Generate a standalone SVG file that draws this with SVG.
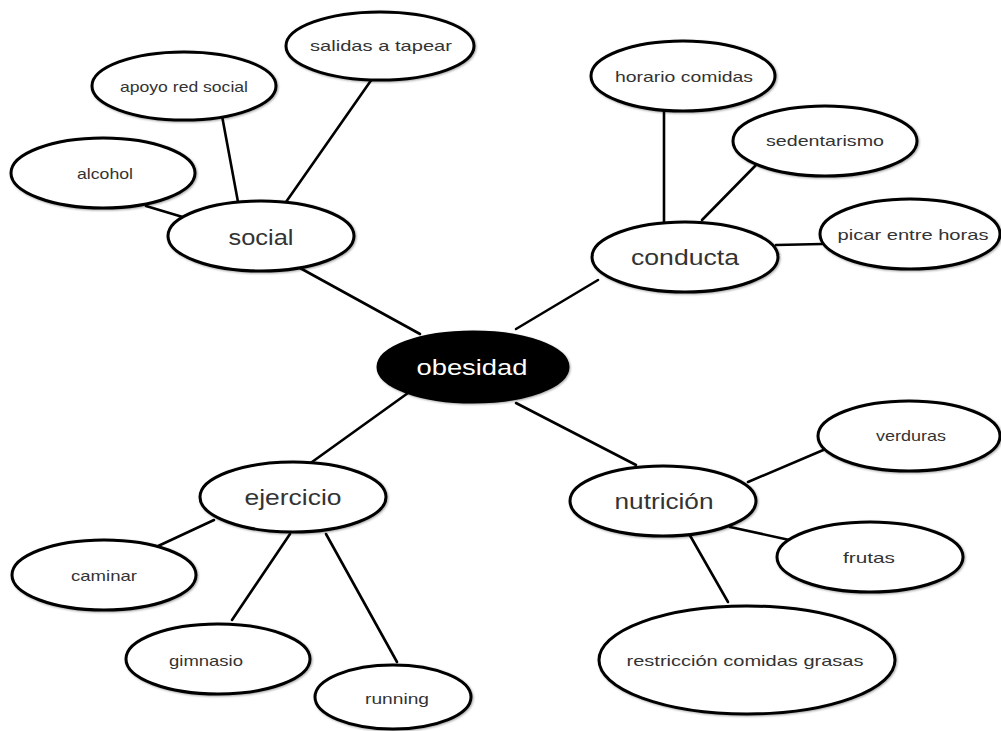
<svg xmlns="http://www.w3.org/2000/svg" width="1001" height="731" viewBox="0 0 1001 731">
<style>
.n ellipse{fill:#fff;stroke:#000;stroke-width:3;filter:url(#sh)}
.n text{font-family:"Liberation Sans","DejaVu Sans",sans-serif;fill:#333;text-anchor:middle;dominant-baseline:central;font-size:15px}
.n text.big{font-size:22px}
#obesidad ellipse{fill:#000}
#obesidad text{fill:#fff}
.c line{stroke:#000;stroke-width:2.6;stroke-linecap:round}
</style>
<defs>
<filter id="sh" x="-10%" y="-20%" width="120%" height="140%">
<feDropShadow dx="1" dy="1" stdDeviation="1.2" flood-color="#000" flood-opacity="0.35"/>
</filter>
</defs>
<rect width="1001" height="731" fill="#fff"/>
<g id="connectors" class="c">
<line x1="420" y1="334" x2="300" y2="268"/>
<line x1="516" y1="329" x2="598" y2="280"/>
<line x1="408" y1="393" x2="312" y2="462"/>
<line x1="516" y1="403" x2="636" y2="465"/>
<line x1="146" y1="206" x2="186" y2="218"/>
<line x1="220" y1="105" x2="238" y2="202"/>
<line x1="372" y1="79" x2="286" y2="202"/>
<line x1="664" y1="108" x2="664" y2="222"/>
<line x1="758" y1="163" x2="702" y2="220"/>
<line x1="776" y1="245" x2="822" y2="244"/>
<line x1="214" y1="520" x2="156" y2="547"/>
<line x1="290" y1="534" x2="232" y2="620"/>
<line x1="326" y1="534" x2="397" y2="662"/>
<line x1="748" y1="482" x2="828" y2="448"/>
<line x1="730" y1="527" x2="794" y2="541"/>
<line x1="688" y1="532" x2="728" y2="602"/>
</g>
<g id="obesidad" class="n"><ellipse cx="473" cy="367" rx="95" ry="35"/><text class="big" x="472" y="367" textLength="111" lengthAdjust="spacingAndGlyphs">obesidad</text></g>
<g id="social" class="n"><ellipse cx="261" cy="236" rx="93" ry="35"/><text class="big" x="261" y="237" textLength="65" lengthAdjust="spacingAndGlyphs">social</text></g>
<g id="alcohol" class="n"><ellipse cx="103" cy="173" rx="92" ry="35"/><text x="105" y="173" textLength="56" lengthAdjust="spacingAndGlyphs">alcohol</text></g>
<g id="apoyo" class="n"><ellipse cx="184" cy="86" rx="92" ry="34"/><text x="184" y="86" textLength="128" lengthAdjust="spacingAndGlyphs">apoyo red social</text></g>
<g id="salidas" class="n"><ellipse cx="380" cy="46" rx="94" ry="34"/><text x="381" y="45" textLength="142" lengthAdjust="spacingAndGlyphs">salidas a tapear</text></g>
<g id="conducta" class="n"><ellipse cx="685" cy="257" rx="93" ry="35"/><text class="big" x="685" y="257" textLength="108" lengthAdjust="spacingAndGlyphs">conducta</text></g>
<g id="horario" class="n"><ellipse cx="683" cy="76" rx="92" ry="35"/><text x="684" y="76" textLength="138" lengthAdjust="spacingAndGlyphs">horario comidas</text></g>
<g id="sedentarismo" class="n"><ellipse cx="825" cy="141" rx="92" ry="35"/><text x="825" y="140" textLength="118" lengthAdjust="spacingAndGlyphs">sedentarismo</text></g>
<g id="picar" class="n"><ellipse cx="910" cy="234" rx="90" ry="35"/><text x="913" y="234" textLength="151" lengthAdjust="spacingAndGlyphs">picar entre horas</text></g>
<g id="ejercicio" class="n"><ellipse cx="293" cy="497" rx="93" ry="35"/><text class="big" x="293" y="497" textLength="97" lengthAdjust="spacingAndGlyphs">ejercicio</text></g>
<g id="caminar" class="n"><ellipse cx="104" cy="575" rx="92" ry="35"/><text x="104" y="575" textLength="66" lengthAdjust="spacingAndGlyphs">caminar</text></g>
<g id="gimnasio" class="n"><ellipse cx="218" cy="659" rx="92" ry="35"/><text x="206" y="660" textLength="74" lengthAdjust="spacingAndGlyphs">gimnasio</text></g>
<g id="running" class="n"><ellipse cx="393" cy="697" rx="78" ry="32"/><text x="397" y="698" textLength="64" lengthAdjust="spacingAndGlyphs">running</text></g>
<g id="nutricion" class="n"><ellipse cx="663" cy="501" rx="93" ry="35"/><text class="big" x="664" y="501" textLength="99" lengthAdjust="spacingAndGlyphs">nutrición</text></g>
<g id="verduras" class="n"><ellipse cx="909" cy="436" rx="91" ry="35"/><text x="911" y="435" textLength="70" lengthAdjust="spacingAndGlyphs">verduras</text></g>
<g id="frutas" class="n"><ellipse cx="870" cy="557" rx="93" ry="35"/><text x="869" y="557" textLength="52" lengthAdjust="spacingAndGlyphs">frutas</text></g>
<g id="restriccion" class="n"><ellipse cx="747" cy="660" rx="148" ry="54"/><text x="745" y="660" textLength="237" lengthAdjust="spacingAndGlyphs">restricción comidas grasas</text></g>
</svg>
